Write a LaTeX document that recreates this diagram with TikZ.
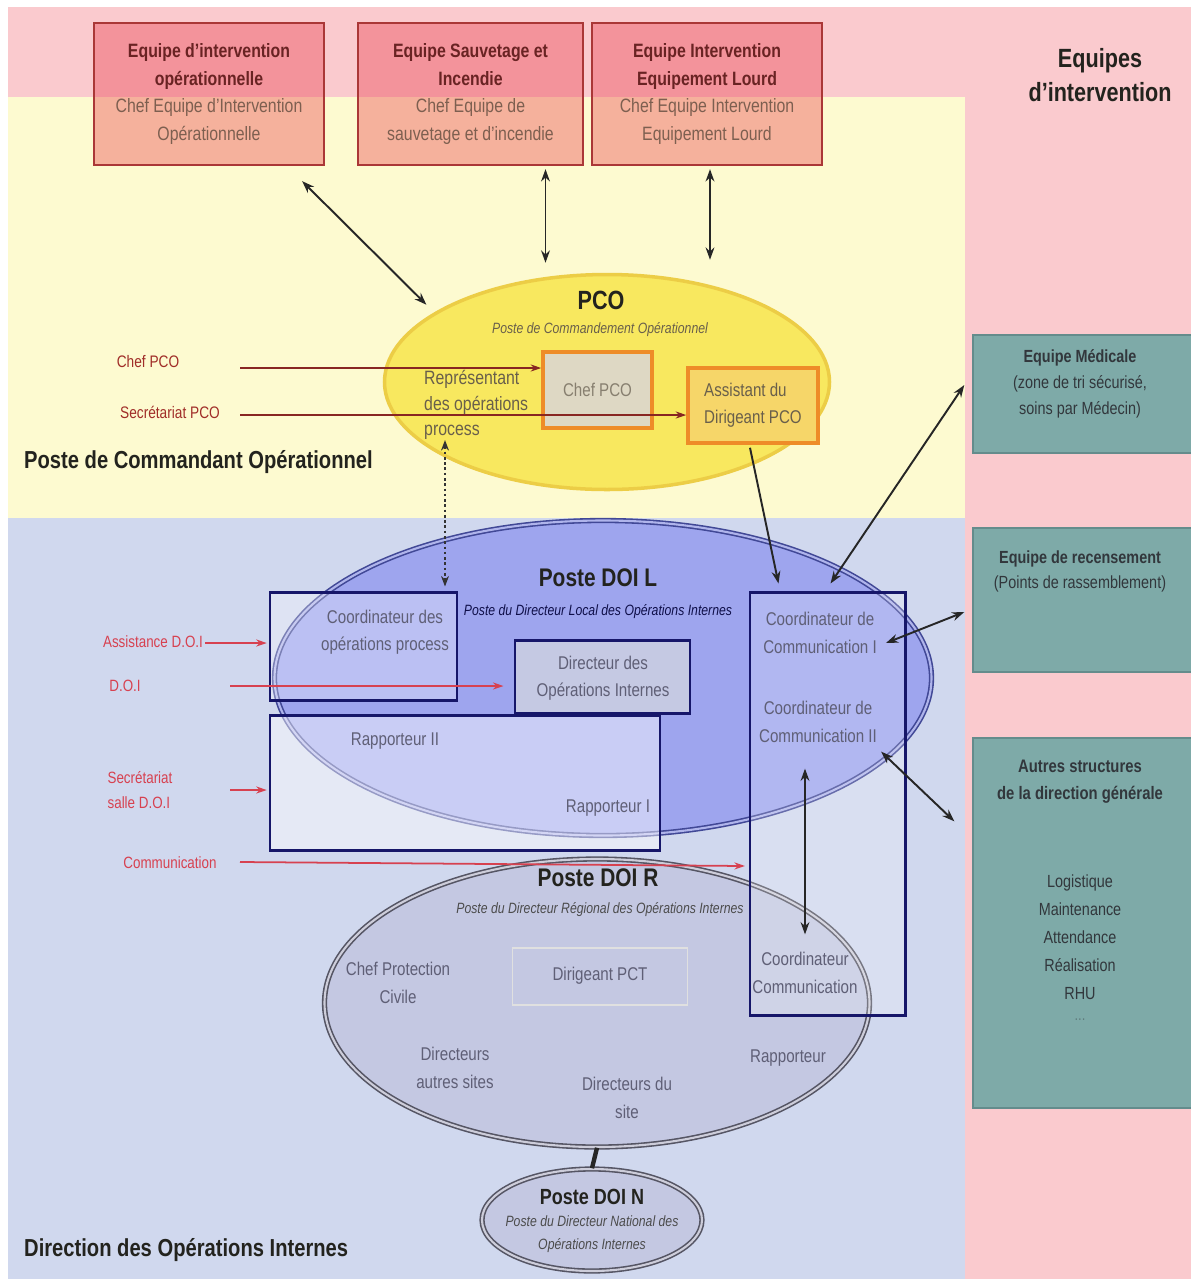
\documentclass[tikz,border=0pt]{standalone}
\usepackage{fontspec}
\setmainfont{Liberation Sans}[FakeStretch=0.82]
\usetikzlibrary{shapes.geometric,arrows.meta,calc}
\newlength\upx \setlength\upx{0.02cm}
\newcommand\fsz[2]{\fontsize{#1}{#2}\selectfont}
\definecolor{bgpink}{RGB}{250,202,206}
\definecolor{bgyellow}{RGB}{253,250,208}
\definecolor{bgblue}{RGB}{208,216,238}
\definecolor{boxred}{RGB}{170,55,55}
\definecolor{boxtxt}{RGB}{105,35,35}
\definecolor{boxtxtb}{RGB}{125,95,80}
\definecolor{tealbox}{RGB}{126,170,168}
\definecolor{tealedge}{RGB}{100,140,140}
\definecolor{tealtxt}{RGB}{50,55,60}
\definecolor{darkred}{RGB}{160,45,40}
\definecolor{pinkred}{RGB}{215,65,80}
\definecolor{navyb}{RGB}{22,22,105}
\definecolor{pcofill}{RGB}{248,232,95}
\definecolor{pcoedge}{RGB}{236,205,70}
\definecolor{orangeb}{RGB}{238,140,40}
\definecolor{chefgrey}{RGB}{222,216,196}
\definecolor{assistfill}{RGB}{246,214,105}
\definecolor{doilfill}{RGB}{118,124,238}
\definecolor{doiledge}{RGB}{65,72,150}
\definecolor{doildbl}{RGB}{175,180,235}
\definecolor{doirfill}{RGB}{196,200,226}
\definecolor{doiredge}{RGB}{85,85,100}
\definecolor{doirdbl}{RGB}{205,205,218}
\definecolor{greytxt}{RGB}{95,95,118}
\definecolor{pcotxt}{RGB}{105,95,75}
\definecolor{dirfill}{RGB}{205,208,226}
\definecolor{titletxt}{RGB}{35,35,30}
\begin{document}
\begin{tikzpicture}[x=0.02cm,y=-0.02cm,
  topbox/.style={draw=boxred, line width=1.3pt, fill={rgb,255:red,232;green,60;blue,72}, fill opacity=0.38, text opacity=1, minimum width=#1, minimum height=142\upx, inner sep=0pt, align=center, text=boxtxtb, font=\fsz{11}{15.6}},
  tealnode/.style={draw=tealedge, line width=0.8pt, fill=tealbox, inner sep=0pt},
  tealtext/.style={align=center, text=tealtxt, font=\fsz{10}{15}},
  navybox/.style={draw=navyb, line width=1.7pt, inner sep=0pt, text opacity=1},
  title/.style={font=\bfseries\fsz{14.5}{17}, text=titletxt},
  subital/.style={font=\itshape\fsz{8.5}{13}},
  inner/.style={align=center, font=\fsz{10.5}{15.5}, text=greytxt},
  redlab/.style={font=\fsz{9.5}{14}, text=darkred, align=left},
  pinklab/.style={font=\fsz{9.3}{14}, text=pinkred, align=left},
  dbl/.style={{Stealth[length=7pt,width=5pt]}-{Stealth[length=7pt,width=5pt]}, line width=1.1pt, draw=black!85},
  onearr/.style={-{Stealth[length=7pt,width=5pt]}, line width=1.1pt, draw=black!85},
  redarr/.style={-{Stealth[length=6pt,width=4pt]}, line width=1pt, draw=darkred!85!black},
  pinkarr/.style={-{Stealth[length=6pt,width=4pt]}, line width=1pt, draw=pinkred},
  dotdbl/.style={{Stealth[length=6pt,width=4.5pt]}-{Stealth[length=6pt,width=4.5pt]}, line width=1pt, dash pattern=on 1.5pt off 1.5pt, draw=black!80}
]
\useasboundingbox (0,0) rectangle (1191,1279);
% backgrounds
\fill[white] (0,0) rectangle (1191,1279);
\fill[bgpink] (8,7) rectangle (1191,1279);
\fill[bgyellow] (8,97) rectangle (965,518);
\fill[bgblue] (8,518) rectangle (965,1279);

% top boxes
\node[topbox=230\upx] (box1) at (209,94) {\textcolor{boxtxt}{\textbf{Equipe d'intervention}}\\\textcolor{boxtxt}{\textbf{opérationnelle}}\\Chef Equipe d'Intervention\\Opérationnelle};
\node[topbox=225\upx] (box2) at (470.5,94) {\textcolor{boxtxt}{\textbf{Equipe Sauvetage et}}\\\textcolor{boxtxt}{\textbf{Incendie}}\\Chef Equipe de\\sauvetage et d'incendie};
\node[topbox=230\upx] (box3) at (707,94) {\textcolor{boxtxt}{\textbf{Equipe Intervention}}\\\textcolor{boxtxt}{\textbf{Equipement Lourd}}\\Chef Equipe Intervention\\Equipement Lourd};
\node[font=\bfseries\fsz{15}{19.3}, text=titletxt, align=center] (eqi) at (1100,75) {Equipes\\d'intervention};

% right column boxes
\node[tealnode, minimum width=224\upx, minimum height=118\upx] (med) at (1085,394) {};
\node[tealnode, minimum width=224\upx, minimum height=144\upx] (rec) at (1085,600) {};
\node[tealnode, minimum width=224\upx, minimum height=370\upx] (autres) at (1085,923) {};
\node[tealtext] (medt) at (1080,384) {\textbf{Equipe Médicale}\\(zone de tri sécurisé,\\soins par Médecin)};
\node[tealtext, font=\fsz{10}{14.2}] (rect) at (1080,571) {\textbf{Equipe de recensement}\\(Points de rassemblement)};
\node[tealtext, font=\bfseries\fsz{10.3}{15.3}] (autt) at (1080,782) {Autres structures\\de la direction générale};
\node[tealtext, font=\fsz{10}{15.9}] (autl) at (1080,937) {Logistique\\Maintenance\\Attendance\\Réalisation\\RHU};
\node[text=tealtxt!40!tealbox, font=\fsz{9}{12}] (autd) at (1080,1020) {...};

% PCO
\node[ellipse, draw=pcoedge, line width=2pt, fill=pcofill, minimum width=445\upx, minimum height=215\upx, inner sep=0pt] (pco) at (607,382) {};
\node[draw=orangeb, line width=2pt, fill=chefgrey, minimum width=109\upx, minimum height=76\upx, inner sep=0pt, font=\fsz{10.5}{14}, text=pcotxt!80!white] (chefpco) at (597.5,390) {Chef PCO};
\node[draw=orangeb, line width=2pt, fill=assistfill, minimum width=130\upx, minimum height=75\upx, inner sep=0pt, align=left, font=\fsz{10.5}{15.5}, text=pcotxt] (assist) at (753,405.5) {Assistant du\\Dirigeant PCO};
\node[title, font=\bfseries\fsz{15}{17}] (pcot) at (601,300) {PCO};
\node[subital, text=pcotxt] (pcos) at (600,330) {Poste de Commandement Opérationnel};
\node[anchor=west, align=left, font=\fsz{11}{14.3}, text=pcotxt] (repr) at (418,405) {Représentant\\des opérations\\process};
\node[title, font=\bfseries\fsz{14}{17}, anchor=west] (ptitle) at (18,462) {Poste de Commandant Opérationnel};

% left labels PCO
\node[redlab] (lchef) at (148,362) {Chef PCO};
\node[redlab] (lsec) at (170,412) {Secrétariat PCO};

% DOI R (under DOI L)
\node[ellipse, draw=doiredge, double=doirdbl, double distance=1.2pt, line width=0.9pt, fill=doirfill, minimum width=545\upx, minimum height=288\upx, inner sep=0pt] (doir) at (597,1003) {};
\node[ellipse, draw=doiredge, double=doirdbl, double distance=1.2pt, line width=0.9pt, fill=doirfill, minimum width=220\upx, minimum height=102\upx, inner sep=0pt] (doin) at (592,1220) {};
% DOI L
\node[ellipse, draw=doiledge, double=doildbl, double distance=1.2pt, line width=0.9pt, fill=doilfill, fill opacity=0.55, minimum width=657\upx, minimum height=315\upx, inner sep=0pt] (doil) at (603,678) {};

% DOI L rectangles
\node[navybox, fill=white, fill opacity=0.3, minimum width=187\upx, minimum height=108\upx] (coordproc) at (363.5,646) {};
\node[navybox, fill=white, fill opacity=0.45, minimum width=390\upx, minimum height=135\upx] (rapbox) at (465,782.5) {};
\node[navybox, fill=dirfill, fill opacity=0.85, minimum width=175\upx, minimum height=73\upx] (directeur) at (602.5,676.5) {};
\node[navybox, fill=white, fill opacity=0.2, minimum width=155\upx, minimum height=423\upx] (coordbox) at (827.5,803.5) {};
\node[draw=black!12, line width=0.6pt, minimum width=175\upx, minimum height=57\upx, inner sep=0pt] (dirpct) at (600,976.5) {};

% DOI L texts
\node[title] (doilt) at (598,578) {Poste DOI L};
\node[subital, text=navyb!70!black] (doils) at (598,612) {Poste du Directeur Local des Opérations Internes};
\node[inner] (coordproct) at (385,632) {Coordinateur des\\opérations process};
\node[inner] (dirt) at (603,678.5) {Directeur des\\Opérations Internes};
\node[inner] (rap2) at (395,741) {Rapporteur II};
\node[inner] (rap1) at (608,808) {Rapporteur I};
\node[inner] (cc1) at (820,633) {Coordinateur de\\Communication I};
\node[inner] (cc2) at (818,722) {Coordinateur de\\Communication II};
\node[inner] (cc3) at (805,973) {Coordinateur\\Communication};

% DOI R texts
\node[title] (doirt) at (598,878) {Poste DOI R};
\node[subital, text=black!70] (doirs) at (600,910) {Poste du Directeur Régional des Opérations Internes};
\node[inner] (cpc) at (398,983) {Chef Protection\\Civile};
\node[inner] (dpct) at (600,976) {Dirigeant PCT};
\node[inner] (das) at (455,1068) {Directeurs\\autres sites};
\node[inner] (dds) at (627,1098) {Directeurs du\\site};
\node[inner] (rapr) at (788,1058) {Rapporteur};
\node[title, font=\bfseries\fsz{12.5}{15}] (doint) at (592,1197) {Poste DOI N};
\node[subital, align=center, text=black!70, font=\itshape\fsz{8.5}{13}] (doins) at (592,1234) {Poste du Directeur National des\\Opérations Internes};
\node[title, font=\bfseries\fsz{14}{17}, anchor=west] (dtitle) at (18,1250) {Direction des Opérations Internes};

% left labels DOI
\node[pinklab] (lassist) at (153,642) {Assistance D.O.I};
\node[pinklab] (ldoi) at (125,686) {D.O.I};
\node[pinklab] (lsecs) at (140,790) {Secrétariat\\salle D.O.I};
\node[pinklab] (lcomm) at (170,863) {Communication};

% red arrows
\coordinate (r1) at (240,368);
\coordinate (r2) at (240,415);
\coordinate (r3) at (205,643);
\coordinate (r4) at (230,686);
\coordinate (r5) at (230,790);
\coordinate (r6) at (240,862);
\coordinate (r6e) at (745,866);
\draw[redarr] (r1) -- (r1 -| chefpco.west);
\draw[redarr] (r2) -- (r2 -| assist.west);
\draw[pinkarr, shorten >=1pt] (r3) -- (r3 -| coordproc.west);
\draw[pinkarr, shorten >=10\upx] (r4) -- (r4 -| directeur.west);
\draw[pinkarr, shorten >=1pt] (r5) -- (r5 -| rapbox.west);
\draw[pinkarr] (r6) -- (r6e);

% black arrows
\coordinate (b1s) at ($(box1.south east)+(-23,15)$);
\coordinate (b2s) at ($(box2.south)+(75,3)$);
\coordinate (b3s) at ($(box3.south)+(3,3)$);
\draw[dbl] (b1s) -- ($(pco.north west)+(-22,0)$);
\draw[dbl, shorten >=10\upx] (b2s) -- (b2s |- pco.north);
\draw[dbl, shorten >=13\upx] (b3s) -- (b3s |- pco.north);
\coordinate (rp) at (445,440);
\draw[dotdbl, shorten >=4\upx] (rp) -- (rp |- coordproc.north);
\draw[onearr] ($(assist.south)+(-3,3)$) -- ($(coordbox.north)+(-49,-7)$);
\draw[dbl] ($(med.west)+(-8,-9)$) -- ($(coordbox.north)+(3,-7)$);
\draw[dbl] ($(cc1.east)+(3,10)$) -- ($(rec.west)+(-8,12)$);
\draw[dbl] ($(cc2.south east)+(-2,3)$) -- ($(autres.north west)+(-18,84)$);
\draw[dbl] ($(cc2.south)+(-13,20)$) -- ($(cc3.north)+(0,-12)$);
\draw[line width=2.5pt, draw=black!85] (doir.south) -- (doin.north);
\end{tikzpicture}
\end{document}
